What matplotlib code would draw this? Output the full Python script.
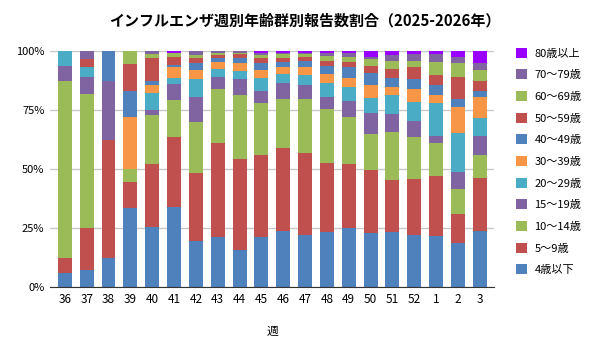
import numpy as np
import matplotlib
matplotlib.use("Agg")
import matplotlib.pyplot as plt

plt.rcParams['font.family'] = ['Noto Sans CJK JP', 'DejaVu Sans']

# weeks (2025 wk36 .. 2026 wk3)
weeks = ["36", "37", "38", "39", "40", "41", "42", "43", "44", "45",
         "46", "47", "48", "49", "50", "51", "52", "1", "2", "3"]

age_groups = ["4歳以下", "5～9歳", "10～14歳", "15～19歳", "20～29歳",
              "30～39歳", "40～49歳", "50～59歳", "60～69歳", "70～79歳", "80歳以上"]

# share (%) per age group, one list per group, one value per week
age_0_4   = [6.0, 7.4, 12.5, 33.3, 25.5, 33.9, 19.5, 21.2, 15.9, 21.2, 23.8, 22.1, 23.5, 25.1, 23.0, 23.5, 22.1, 21.8, 18.7, 23.8]
age_5_9   = [6.3, 17.7, 50.0, 11.1, 26.8, 29.8, 28.9, 40.0, 38.5, 34.9, 35.3, 34.8, 29.2, 27.2, 26.7, 22.0, 23.8, 25.4, 12.3, 22.5]
age_10_14 = [75.2, 56.9, 0.0, 5.6, 20.8, 15.3, 21.7, 22.9, 26.8, 21.7, 20.8, 23.0, 22.9, 19.9, 15.3, 20.4, 17.8, 14.0, 10.6, 9.8]
age_15_19 = [6.4, 7.2, 25.0, 0.0, 1.8, 6.8, 10.6, 5.1, 6.8, 5.5, 6.4, 5.9, 5.1, 6.8, 8.9, 7.6, 6.8, 3.0, 7.3, 8.1]
age_20_29 = [6.1, 4.0, 0.0, 0.0, 7.5, 2.6, 7.3, 3.4, 3.4, 5.5, 3.8, 4.0, 5.7, 6.0, 6.4, 7.7, 8.1, 14.0, 16.5, 7.6]
age_30_39 = [0.0, 0.0, 0.0, 22.2, 3.4, 4.7, 3.8, 2.6, 3.4, 3.0, 3.1, 3.3, 3.8, 3.8, 5.5, 3.4, 5.5, 3.4, 10.7, 8.9]
age_40_49 = [0.0, 0.0, 12.5, 11.1, 1.7, 0.8, 3.1, 1.7, 2.1, 3.1, 2.0, 2.5, 3.3, 4.3, 4.8, 4.2, 3.9, 4.2, 3.8, 2.6]
age_50_59 = [0.0, 3.4, 0.0, 11.1, 9.4, 3.4, 2.0, 1.4, 1.7, 2.0, 1.7, 1.7, 2.5, 2.1, 3.3, 3.8, 5.1, 3.9, 9.3, 4.2]
age_60_69 = [0.0, 0.0, 0.0, 5.6, 1.7, 2.0, 1.4, 0.7, 0.6, 1.4, 1.7, 1.3, 1.9, 2.1, 2.6, 3.0, 2.9, 5.5, 5.6, 4.3]
age_70_79 = [0.0, 3.4, 0.0, 0.0, 1.4, 0.0, 1.7, 1.0, 0.8, 1.0, 0.8, 0.8, 1.4, 1.9, 1.2, 2.7, 2.6, 3.4, 2.5, 3.0]
age_80_up = [0.0, 0.0, 0.0, 0.0, 0.0, 0.6, 0.0, 0.0, 0.0, 0.7, 0.6, 0.6, 0.7, 0.8, 2.3, 1.7, 1.4, 1.4, 2.7, 5.2]

series = [age_0_4, age_5_9, age_10_14, age_15_19, age_20_29, age_30_39,
          age_40_49, age_50_59, age_60_69, age_70_79, age_80_up]

colors = ["#4F81BD", "#C0504D", "#9BBB59", "#8064A2", "#4BACC6", "#F79646",
          "#4F81BD", "#C0504D", "#9BBB59", "#8064A2", "#9900FF"]

data = np.array(series, dtype=float)
data = data / data.sum(axis=0) * 100  # normalise to 100%

fig = plt.figure(figsize=(6, 3.55), dpi=100)
ax = fig.add_axes([0.0833, 0.1915, 0.74, 0.6645])

x = np.arange(len(weeks))
bottom = np.zeros(len(weeks))
handles = []
for vals, col, lab in zip(data, colors, age_groups):
    b = ax.bar(x, vals, bottom=bottom, width=0.64, color=col, label=lab, zorder=3)
    handles.append(b)
    bottom += vals

ax.set_xlim(-0.68, len(weeks) - 0.35)
ax.set_ylim(0, 100)
ax.set_yticks([0, 25, 50, 75, 100])
ax.set_yticklabels(["0%", "25%", "50%", "75%", "100%"], fontsize=8)
ax.set_xticks(x)
ax.set_xticklabels(weeks, fontsize=8.5)
ax.tick_params(length=0, pad=4)
ax.grid(axis='y', color='#C8C8C8', linewidth=1, zorder=0)
for s in ['top', 'right', 'left']:
    ax.spines[s].set_visible(False)
ax.spines['bottom'].set_color('#333333')
ax.spines['bottom'].set_zorder(4)

ax.set_xlabel("週", fontsize=8.5, labelpad=14)
fig.suptitle("インフルエンザ週別年齢群別報告数割合（2025-2026年）",
             x=0.508, y=0.965, fontsize=10.8, fontweight='bold')

fig.legend(handles[::-1], age_groups[::-1], loc='upper left',
           bbox_to_anchor=(0.852, 0.878), frameon=False, fontsize=8,
           handlelength=1.0, handleheight=1.0, handletextpad=0.7,
           labelspacing=0.98, borderaxespad=0)

fig.savefig("out.png", dpi=100)
